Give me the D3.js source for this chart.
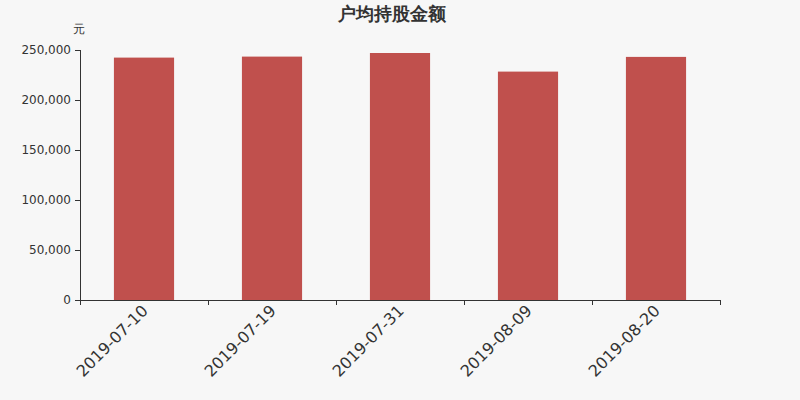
<!DOCTYPE html>
<html>
<head>
<meta charset="utf-8">
<script src="https://cdn.jsdelivr.net/npm/d3@7"></script>
<style>
  body { margin: 0; background: #f7f7f7; }
  svg { display: block; font-family: "DejaVu Sans", sans-serif; }
</style>
</head>
<body>
<div id="chart"></div>
<script>
const dates = ['2019-07-10', '2019-07-19', '2019-07-31', '2019-08-09', '2019-08-20'];
const amounts = [242400, 243400, 247000, 228400, 243100];
const yTicks = [0, 50000, 100000, 150000, 200000, 250000];

const width = 800;
const height = 400;
const margin = { top: 50, right: 80, bottom: 100, left: 80 };

const svg = d3.select('#chart').append('svg')
  .attr('width', width)
  .attr('height', height);

svg.append('rect')
  .attr('width', width)
  .attr('height', height)
  .attr('fill', '#f7f7f7');

const x = d3.scaleBand()
  .domain(dates)
  .range([margin.left, width - margin.right])
  .paddingInner(0.53)
  .paddingOuter(0.265);

const y = d3.scaleLinear()
  .domain([0, 250000])
  .range([height - margin.bottom, margin.top]);

// title
svg.append('text')
  .attr('x', 392)
  .attr('y', 20)
  .attr('text-anchor', 'middle')
  .style('font-size', '18px')
  .style('font-weight', 'bold')
  .style('fill', '#333')
  .text('户均持股金额');

// unit
svg.append('text')
  .attr('x', 79)
  .attr('y', 33)
  .attr('text-anchor', 'middle')
  .style('font-size', '12px')
  .style('fill', '#333')
  .text('元');

// y axis
const yAxis = svg.append('g')
  .attr('transform', `translate(${margin.left},0)`)
  .call(d3.axisLeft(y)
    .tickValues(yTicks)
    .tickSize(5)
    .tickPadding(4)
    .tickFormat(d3.format(',')));
yAxis.selectAll('text')
  .style('font-size', '12px')
  .style('font-family', '"DejaVu Sans", sans-serif')
  .style('fill', '#333');
yAxis.selectAll('line, path').attr('stroke', '#333');
yAxis.select('.domain').attr('d', `M0.5,${y(0)}V${y(250000)}`);

// bars
svg.append('g').selectAll('rect')
  .data(dates)
  .enter().append('rect')
  .attr('x', d => x(d))
  .attr('width', x.bandwidth())
  .attr('y', (d, i) => y(amounts[i]))
  .attr('height', (d, i) => y(0) - y(amounts[i]))
  .attr('fill', '#c0504d');

// x axis, ticks between categories
const step = x.step();
const xAxis = svg.append('g')
  .attr('transform', `translate(0,${y(0)})`);
xAxis.append('line')
  .attr('x1', margin.left)
  .attr('x2', width - margin.right)
  .attr('y1', 0.5)
  .attr('y2', 0.5)
  .attr('stroke', '#333');
xAxis.selectAll('.tick')
  .data(d3.range(dates.length + 1))
  .enter().append('line')
  .attr('class', 'tick')
  .attr('x1', i => margin.left + i * step + 0.5)
  .attr('x2', i => margin.left + i * step + 0.5)
  .attr('y1', 0)
  .attr('y2', 5)
  .attr('stroke', '#333');
xAxis.selectAll('.label')
  .data(dates)
  .enter().append('text')
  .attr('class', 'label')
  .attr('transform', d => `translate(${x(d) + x.bandwidth() / 2 - 3},${4}) rotate(-45)`)
  .attr('text-anchor', 'end')
  .attr('dy', '0.7em')
  .style('font-size', '16px')
  .style('fill', '#333')
  .text(d => d);
</script>
</body>
</html>
